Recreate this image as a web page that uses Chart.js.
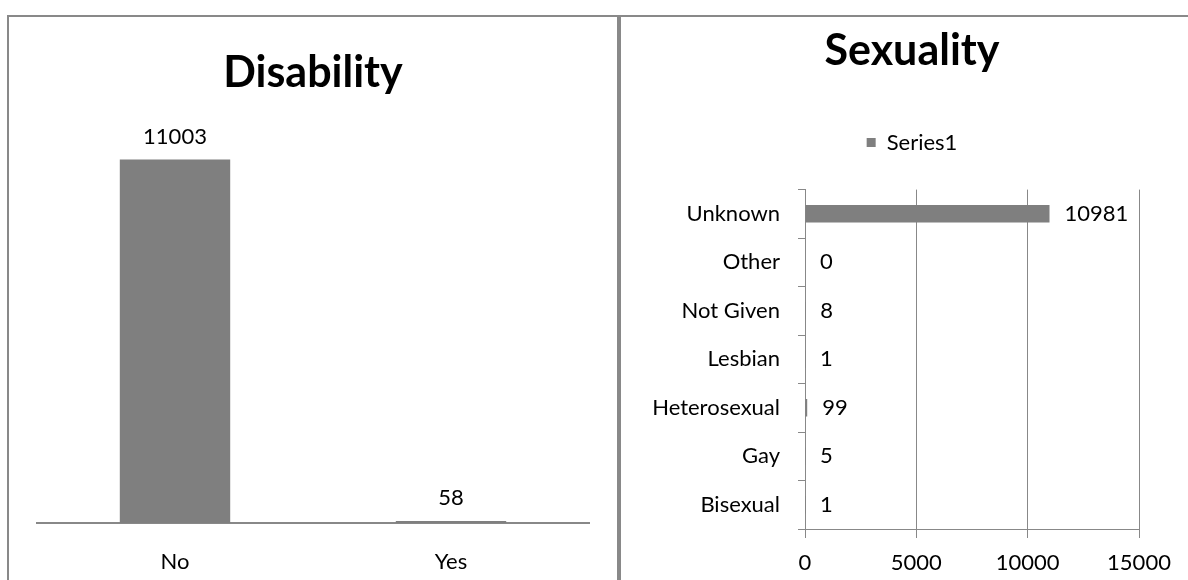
<!DOCTYPE html>
<html>
<head>
<meta charset="utf-8">
<script src="https://cdn.jsdelivr.net/npm/chart.js@4.4.1/dist/chart.umd.min.js"></script>
<style>
html,body{margin:0;padding:0;background:#fff;width:1188px;height:580px;overflow:hidden;position:relative;}
#leftBox{position:absolute;left:7px;top:15px;width:608px;height:600px;border:2px solid #898989;}
#rightBox{position:absolute;left:619px;top:15px;width:620px;height:600px;border:2px solid #898989;}
canvas{display:block;}
</style>
</head>
<body>
<div id="leftBox"><canvas id="c1" width="608" height="563"></canvas></div>
<div id="rightBox"><canvas id="c2" width="567" height="563"></canvas></div>
<script>
// ---- data ----
const disabilityCategories = ['No', 'Yes'];
const disabilityValues = [11003, 58];
const sexualityCategories = ['Unknown', 'Other', 'Not Given', 'Lesbian', 'Heterosexual', 'Gay', 'Bisexual'];
const sexualityValues = [10981, 0, 8, 1, 99, 5, 1];
const sexualityTicks = [0, 5000, 10000, 15000];
const seriesName = 'Series1';

const FONT = 'Lato, "Open Sans", sans-serif';
const BAR = '#7f7f7f';
const GRID = '#888888';

const valueLabels = {
  id: 'valueLabels',
  afterDatasetsDraw(chart, args, opts) {
    const ctx = chart.ctx;
    const meta = chart.getDatasetMeta(0);
    const data = chart.data.datasets[0].data;
    ctx.save();
    ctx.font = opts.size + 'px ' + FONT;
    ctx.fillStyle = '#000';
    ctx.textBaseline = 'middle';
    meta.data.forEach((el, i) => {
      const t = String(data[i]);
      if (opts.horizontal) {
        ctx.textAlign = 'left';
        ctx.fillText(t, el.x + opts.offset, el.y);
      } else {
        ctx.textAlign = 'center';
        ctx.fillText(t, el.x, el.y - opts.offset);
      }
    });
    ctx.restore();
  }
};

new Chart(document.getElementById('c1'), {
  type: 'bar',
  data: {
    labels: disabilityCategories,
    datasets: [{ label: seriesName, data: disabilityValues, backgroundColor: BAR, borderWidth: 0, categoryPercentage: 1, barPercentage: 0.4 }]
  },
  options: {
    responsive: false, animation: false, devicePixelRatio: 1,
    layout: { padding: { left: 28, right: 28, top: 0, bottom: 0 } },
    plugins: {
      legend: { display: false },
      tooltip: { enabled: false },
      title: { display: true, text: 'Disability', color: '#000', font: { family: FONT, size: 43, weight: 'bold' }, padding: { top: 30, bottom: 28 } },
      valueLabels: { size: 22, offset: 23, horizontal: false }
    },
    scales: {
      x: {
        grid: { display: false, drawTicks: false },
        border: { display: true, color: GRID, width: 2 },
        ticks: { color: '#000', font: { family: FONT, size: 22 }, padding: 26 },
        afterFit(s) { s.height = 57; }
      },
      y: { display: false, min: 0, max: 12000 }
    }
  },
  plugins: [valueLabels]
});

new Chart(document.getElementById('c2'), {
  type: 'bar',
  data: {
    labels: sexualityCategories,
    datasets: [{ label: seriesName, data: sexualityValues, backgroundColor: BAR, borderWidth: 0, categoryPercentage: 1, barPercentage: 0.36 }]
  },
  options: {
    indexAxis: 'y',
    responsive: false, animation: false, devicePixelRatio: 1,
    layout: { padding: { left: 30, right: 15, top: 0, bottom: 0 } },
    plugins: {
      tooltip: { enabled: false },
      title: { display: true, text: 'Sexuality', color: '#000', font: { family: FONT, size: 43, weight: 'bold' }, padding: { top: 8, bottom: 45 } },
      legend: { display: true, position: 'top', weight: 1600,
        labels: { boxWidth: 9, boxHeight: 9, color: '#000', font: { family: FONT, size: 22 }, padding: 10 } },
      subtitle: { display: true, text: '', padding: 0, font: { size: 26, lineHeight: 1 } },
      valueLabels: { size: 22, offset: 15, horizontal: true }
    },
    scales: {
      x: {
        min: 0, max: 15000,
        afterBuildTicks(s) { s.ticks = sexualityTicks.map(v => ({ value: v })); },
        grid: { color: GRID, lineWidth: 1, tickLength: 9, tickColor: GRID },
        border: { display: true, color: GRID, width: 1 },
        ticks: { color: '#000', font: { family: FONT, size: 22 }, padding: 12, callback: v => String(v) },
        afterFit(s) { s.height = 51; }
      },
      y: {
        grid: { display: true, drawOnChartArea: false, tickLength: 7, color: GRID, offset: true },
        border: { display: true, color: GRID, width: 1 },
        ticks: { color: '#000', font: { family: FONT, size: 22 }, padding: 18 },
        afterFit(s) { s.width = 154; }
      },
      ySpace: {
        type: 'linear', axis: 'y', position: 'right', display: true,
        grid: { display: false, drawTicks: false },
        border: { display: false },
        ticks: { display: false },
        afterFit(s) { s.width = 34; }
      }
    }
  },
  plugins: [valueLabels]
});
</script>
</body>
</html>
